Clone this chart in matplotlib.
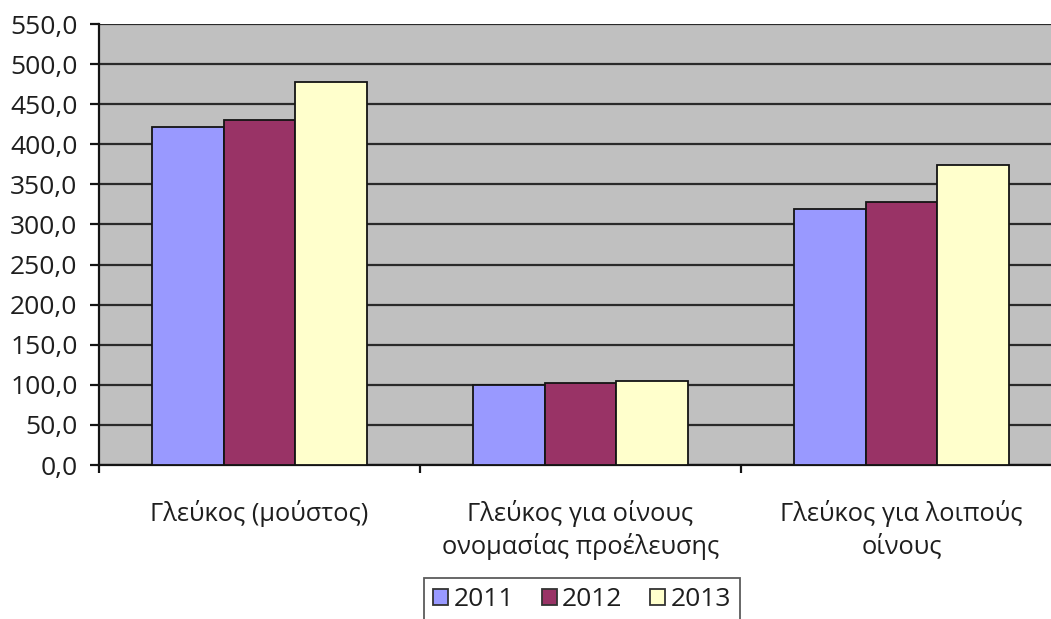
import matplotlib
matplotlib.use("Agg")
import matplotlib.pyplot as plt
import numpy as np
from matplotlib.ticker import FuncFormatter, MultipleLocator

plt.rcParams['font.family'] = ['Open Sans', 'DejaVu Sans']

categories = ["Γλεύκος (μούστος)",
              "Γλεύκος για οίνους\nονομασίας προέλευσης",
              "Γλεύκος για λοιπούς\nοίνους"]
years = ["2011", "2012", "2013"]
values_2011 = [421, 100, 319]
values_2012 = [430, 102.5, 328]
values_2013 = [478, 104.5, 374]
colors = ["#9999FF", "#993366", "#FFFFCC"]

series = [values_2011, values_2012, values_2013]
text_color = "#1e1e1e"

fig = plt.figure(figsize=(10.51, 6.19), dpi=100)
ax = fig.add_axes([99 / 1051, 1 - 465 / 619, 963 / 1051, 441 / 619])
ax.set_facecolor("#C0C0C0")

x = np.arange(len(categories))
bw = 0.223
for i, (vals, yr, c) in enumerate(zip(series, years, colors)):
    ax.bar(x + (i - 1) * bw, vals, width=bw, color=c, edgecolor="#141414",
           linewidth=1.3, label=yr, zorder=3)

ax.set_ylim(0, 550)
ax.set_xlim(-0.5, 2.5)
ax.yaxis.set_major_locator(MultipleLocator(50))
ax.yaxis.set_major_formatter(FuncFormatter(lambda v, p: f"{v:.1f}".replace(".", ",")))
ax.grid(axis="y", color="#2a2a2a", linewidth=1.6, zorder=1)
ax.set_axisbelow(True)

for s in ["top", "right"]:
    ax.spines[s].set_visible(False)
ax.spines["left"].set_linewidth(1.6)
ax.spines["bottom"].set_linewidth(1.6)
ax.spines["left"].set_color("#141414")
ax.spines["bottom"].set_color("#141414")

ax.set_xticks(x)
ax.set_xticklabels(categories, fontsize=18.3, color=text_color, linespacing=1.32)
ax.tick_params(axis="x", which="major", length=0, pad=25)
ax.set_xticks([-0.5, 0.5, 1.5, 2.5], minor=True)
ax.tick_params(axis="x", which="minor", length=6, width=1.6, direction="out",
               color="#141414")
ax.tick_params(axis="y", length=6.5, width=1.6, labelsize=19, labelcolor=text_color,
               pad=9, color="#141414")

leg = ax.legend(loc="upper center", bbox_to_anchor=((582 - 99) / 963, (465 - 578) / 441),
                ncol=3, frameon=True, fancybox=False, fontsize=19,
                handlelength=0.57, handleheight=0.57, handletextpad=0.2,
                columnspacing=1.05, borderpad=0.35, borderaxespad=0)
leg.get_frame().set_edgecolor("#333333")
leg.get_frame().set_linewidth(1.3)
for t in leg.get_texts():
    t.set_color(text_color)
for h in leg.legend_handles:
    h.set_edgecolor("#333333")
    h.set_linewidth(1.3)

fig.savefig("out.png", dpi=100)
